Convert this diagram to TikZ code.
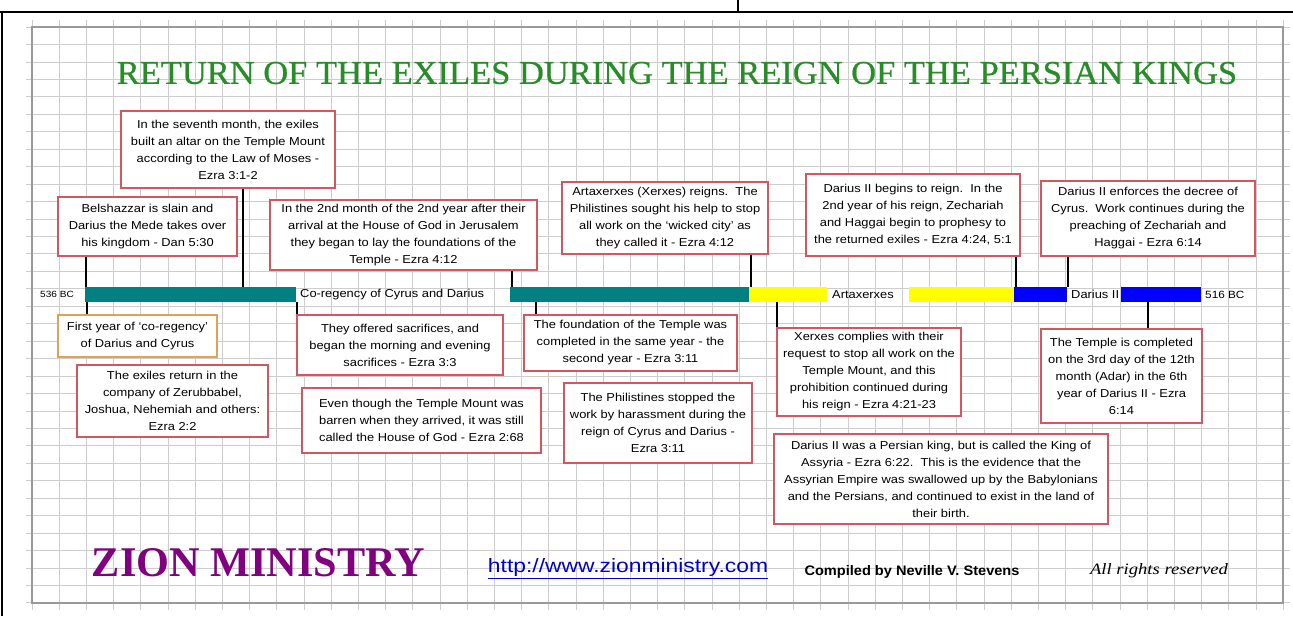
\documentclass[tikz,border=0pt]{standalone}
\usepackage{fontspec}
\setmainfont{Liberation Sans}
\newfontfamily\ttlfont{Liberation Serif}
\newfontfamily\headfont[FakeBold=0.6]{Liberation Serif}
\newfontfamily\boxfont[FakeStretch=1.12, Ligatures=TeX]{Liberation Sans}
\usepackage{graphicx}
\definecolor{boxred}{RGB}{214,86,96}
\definecolor{boxorange}{RGB}{226,160,90}
\definecolor{barteal}{RGB}{0,128,128}
\definecolor{baryellow}{RGB}{255,255,0}
\definecolor{barblue}{RGB}{0,0,255}
\definecolor{ttlgreen}{RGB}{40,140,40}
\definecolor{zionpurple}{RGB}{128,0,128}
\definecolor{gridgray}{RGB}{205,205,205}
\tikzset{note/.style={draw=boxred, line width=1.1pt, fill=white, align=center, inner sep=1pt, font=\boxfont\fontsize{11.5}{17}\selectfont}}
\tikzset{seg/.style={minimum height=15pt, inner sep=0pt, anchor=west}}
\tikzset{tick/.style={line width=1.1pt}}
\tikzset{barlabel/.style={font=\boxfont\fontsize{11.5}{13}\selectfont, inner sep=0pt, anchor=west}}
\tikzset{gridline/.style={gridgray, line width=0.8pt}}

\begin{document}
\begin{tikzpicture}[x=1pt, y=-1pt]
    \useasboundingbox (0,0) rectangle (1293,616);
    \fill[white] (0,0) rectangle (1293,616);
    % sheet grid
    \foreach \i in {0,...,46}
        \draw[gridline] ({32+27.2*\i},20) -- ({32+27.2*\i},610);
    \foreach \j in {0,...,33}
        \draw[gridline] (26,{27+17.45*\j}) -- (1290,{27+17.45*\j});
    \draw[gray!80, line width=1.2pt] (32,27) rectangle (1283,603);
    % page frame
    \draw[line width=1.5pt] (0,12) -- (1293,12);
    \draw[line width=1.5pt] (2,12) -- (2,616);
    \draw[line width=1.2pt] (738,0) -- (738,12);

    \node[text=ttlgreen, inner sep=0pt] (title) at (677,73)
        {\resizebox{1120pt}{22pt}{\headfont RETURN OF THE EXILES DURING THE REIGN OF THE PERSIAN KINGS}};

    % timeline
    \node[barlabel, font=\boxfont\fontsize{9}{10}\selectfont] (start) at (40,294.5) {536 BC};
    \node[seg, fill=barteal, minimum width=211pt] (teal1) at (85,294.5) {};
    \node[barlabel] (coreg) at (300,294.5) {Co-regency of Cyrus and Darius};
    \node[seg, fill=barteal, minimum width=239pt] (teal2) at (510,294.5) {};
    \node[seg, fill=baryellow, minimum width=78pt] (yel1) at (749,294.5) {};
    \node[barlabel] (artaxlbl) at (832,294.5) {Artaxerxes};
    \node[seg, fill=baryellow, minimum width=105pt] (yel2) at (909,294.5) {};
    \node[seg, fill=barblue, minimum width=53pt] (blu1) at (1014,294.5) {};
    \node[barlabel] (dariuslbl) at (1071,294.5) {Darius II};
    \node[seg, fill=barblue, minimum width=80pt] (blu2) at (1121,294.5) {};
    \node[barlabel, font=\boxfont\fontsize{10.5}{12}\selectfont] (end) at (1205,294.5) {516 BC};

    % events above the line
    \node[note, minimum width=214pt, minimum height=77pt] (seventh) at (228,149.5)
        {In the seventh month, the exiles\\built an altar on the Temple Mount\\according to the Law of Moses -\\Ezra 3:1-2};
    \node[note, minimum width=179pt, minimum height=59pt] (belsh) at (147.5,226.5)
        {Belshazzar is slain and\\Darius the Mede takes over\\his kingdom - Dan 5:30};
    \node[note, minimum width=267pt, minimum height=70pt] (second) at (403.5,235)
        {In the 2nd month of the 2nd year after their\\arrival at the House of God in Jerusalem\\they began to lay the foundations of the\\Temple - Ezra 4:12};
    \node[note, minimum width=206pt, minimum height=72pt] (artax) at (665,218)
        {Artaxerxes (Xerxes) reigns.\ \ The\\Philistines sought his help to stop\\all work on the `wicked city' as\\they called it - Ezra 4:12};
    \node[note, minimum width=214pt, minimum height=82pt] (dariusa) at (913,215)
        {Darius II begins to reign.\ \ In the\\2nd year of his reign, Zechariah\\and Haggai begin to prophesy to\\the returned exiles - Ezra 4:24, 5:1};
    \node[note, minimum width=214pt, minimum height=75pt] (dariusb) at (1148,218.5)
        {Darius II enforces the decree of\\Cyrus.\ \ Work continues during the\\preaching of Zechariah and\\Haggai - Ezra 6:14};

    % events below the line
    \node[note, draw=boxorange, minimum width=159pt, minimum height=42pt] (firstyr) at (137.5,336)
        {First year of `co-regency'\\of Darius and Cyrus};
    \node[note, minimum width=191pt, minimum height=72pt] (exiles) at (172.5,401)
        {The exiles return in the\\company of Zerubbabel,\\Joshua, Nehemiah and others:\\Ezra 2:2};
    \node[note, minimum width=206pt, minimum height=60pt] (offered) at (400,345)
        {They offered sacrifices, and\\began the morning and evening\\sacrifices - Ezra 3:3};
    \node[note, align=left, minimum width=239pt, minimum height=65pt, inner xsep=5pt] (barren) at (421.5,420.5)
        {Even though the Temple Mount was\\barren when they arrived, it was still\\called the House of God - Ezra 2:68};
    \node[note, minimum width=213pt, minimum height=56pt] (foundn) at (630.5,343)
        {The foundation of the Temple was\\completed in the same year - the\\second year - Ezra 3:11};
    \node[note, minimum width=188pt, minimum height=80pt] (harass) at (658,423)
        {The Philistines stopped the\\work by harassment during the\\reign of Cyrus and Darius -\\Ezra 3:11};
    \node[note, minimum width=184pt, minimum height=88pt] (xerxes) at (869,372)
        {Xerxes complies with their\\request to stop all work on the\\Temple Mount, and this\\prohibition continued during\\his reign - Ezra 4:21-23};
    \node[note, minimum width=161pt, minimum height=94pt] (done) at (1121.5,376)
        {The Temple is completed\\on the 3rd day of the 12th\\month (Adar) in the 6th\\year of Darius II - Ezra\\6:14};
    \node[note, minimum width=334pt, minimum height=90pt] (assyria) at (941,479)
        {Darius II was a Persian king, but is called the King of\\Assyria - Ezra 6:22.\ \ This is the evidence that the\\Assyrian Empire was swallowed up by the Babylonians\\and the Persians, and continued to exist in the land of\\their birth.};

    % ticks onto the line
    \coordinate (a1) at (86,287);
    \coordinate (a2) at (243,287);
    \coordinate (a3) at (512,287);
    \coordinate (a4) at (751,287);
    \coordinate (a5) at (1016,287);
    \coordinate (a6) at (1068,287);
    \coordinate (b1) at (87,302);
    \coordinate (b2) at (297,302);
    \coordinate (b3) at (536,302);
    \coordinate (b4) at (777,302);
    \coordinate (b5) at (1148,302);
    \draw[tick] (belsh.south -| a1) -- (a1);
    \draw[tick] (seventh.south -| a2) -- (a2);
    \draw[tick] (second.south -| a3) -- (a3);
    \draw[tick] (artax.south -| a4) -- (a4);
    \draw[tick] (dariusa.south -| a5) -- (a5);
    \draw[tick] (dariusb.south -| a6) -- (a6);
    \draw[tick] (b1) -- (firstyr.north -| b1);
    \draw[tick] (b2) -- (offered.north -| b2);
    \draw[tick] (b3) -- (foundn.north -| b3);
    \draw[tick] (b4) -- (xerxes.north -| b4);
    \draw[tick] (b5) -- (done.north -| b5);

    % footer
    \node[text=zionpurple, inner sep=0pt] (zion) at (258.5,563)
        {\resizebox{333pt}{28pt}{\ttlfont\bfseries ZION MINISTRY}};
    \node[text=blue!80!black, inner sep=0pt] (url) at (628,569)
        {\resizebox{280pt}{14pt}{\underline{http://www.zionministry.com}}};
    \node[inner sep=0pt] (compiled) at (912,572)
        {\resizebox{215pt}{10pt}{\bfseries Compiled by Neville V. Stevens}};
    \node[inner sep=0pt] (rights) at (1159,571)
        {\resizebox{138pt}{11pt}{\ttlfont\itshape All rights reserved}};
\end{tikzpicture}
\end{document}
